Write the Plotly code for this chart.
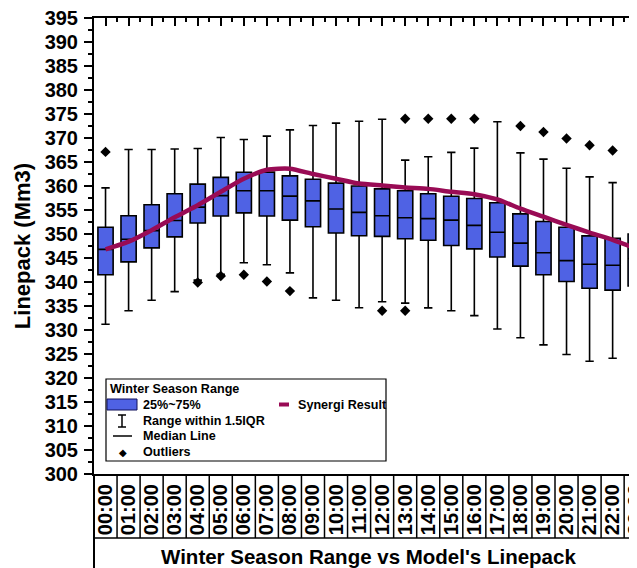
import plotly.graph_objects as go

# ---------------- data ----------------
hours = ["00:00", "01:00", "02:00", "03:00", "04:00", "05:00", "06:00", "07:00",
         "08:00", "09:00", "10:00", "11:00", "12:00", "13:00", "14:00", "15:00",
         "16:00", "17:00", "18:00", "19:00", "20:00", "21:00", "22:00", "23:00"]

whisker_low = [331.2, 334.0, 336.2, 338.0, 340.4, 341.6, 344.0, 343.6, 341.9, 336.7,
               336.2, 334.65, 335.9, 335.6, 334.6, 334.0, 333.0, 330.2, 328.4, 326.9,
               324.9, 323.5, 324.1, 326.6]
q1 = [341.5, 344.2, 347.1, 349.4, 352.3, 353.75, 354.4, 353.75, 352.9, 351.5,
      350.2, 349.65, 349.5, 349.0, 348.7, 347.6, 346.9, 345.2, 343.3, 341.5,
      340.1, 338.7, 338.3, 339.2]
median = [346.8, 348.9, 350.7, 352.8, 355.6, 358.0, 359.0, 359.0, 357.9, 356.9,
          355.2, 354.5, 353.8, 353.4, 353.2, 352.9, 351.8, 350.35, 348.1, 346.1,
          344.45, 343.7, 343.5, 344.9]
q3 = [351.4, 353.8, 356.1, 358.4, 360.4, 361.8, 362.85, 362.9, 362.1, 361.4,
      360.6, 360.0, 359.4, 359.0, 358.4, 357.85, 357.4, 356.5, 354.2, 352.6,
      351.4, 349.6, 349.1, 350.0]
whisker_high = [359.6, 367.6, 367.6, 367.7, 367.8, 370.1, 369.7, 370.4, 371.7, 372.6,
                373.1, 373.5, 373.9, 365.4, 366.1, 367.0, 367.9, 373.4, 366.9, 365.6,
                363.7, 361.9, 360.7, 360.2]

outlier_hours = [0, 4, 5, 6, 7, 8, 12, 13, 13, 14, 15, 16, 18, 19, 20, 21, 22, 23]
outlier_vals = [367.1, 339.9, 341.25, 341.5, 340.1, 338.1, 334.0, 374.0, 334.0, 374.0,
                374.0, 374.0, 372.5, 371.25, 369.9, 368.5, 367.4, 366.9]

synergi = [346.8, 348.4, 350.8, 353.5, 356.0, 358.8, 361.5, 363.4, 363.6, 362.5,
           361.5, 360.5, 360.1, 359.7, 359.4, 358.8, 358.3, 357.2, 355.3, 353.6,
           351.9, 350.3, 348.8, 347.0]

y_ticks = list(range(300, 396, 5))

# ---------------- styling ----------------
# the page body has an 8px default margin, so the figure is offset by 8px
OFF = 8
W, H = 637 - OFF, 568 - OFF
REF_L, REF_T, REF_B = 94, 18, 474          # plot area edges in window pixels
ML, MT = REF_L - OFF, REF_T - OFF
MB = H - (REF_B - OFF)
MR = 0
PW, PH = W - ML - MR, H - MT - MB
FONT = "Liberation Sans, Arial, sans-serif"
BLUE = "#4F62E4"
LINEC = "#990B55"
idx = list(range(len(hours)))
x_range = [-0.5, -0.5 + PW / 23.05]


def px_x(p):
    return (p - REF_L) / PW


def px_y(p):
    return (REF_B - p) / PH


fig = go.Figure()
fig.add_trace(go.Box(
    x=idx, q1=q1, median=median, q3=q3,
    lowerfence=whisker_low, upperfence=whisker_high,
    boxpoints=False, fillcolor=BLUE,
    line=dict(color="black", width=1.6),
    width=0.66, whiskerwidth=0.55, name="25%~75%",
))
fig.add_trace(go.Scatter(
    x=idx, y=synergi, mode="lines", name="Synergi Result",
    line=dict(color=LINEC, width=4.5, shape="spline", smoothing=0.6),
))
fig.add_trace(go.Scatter(
    x=outlier_hours, y=outlier_vals, mode="markers", name="Outliers",
    marker=dict(symbol="diamond", size=8, color="black"),
    xaxis="x2",
))

shapes = []
cell_bottom = px_y(538)
for k in idx[1:]:
    shapes.append(dict(type="line", xref="x", yref="paper", x0=k - 0.5, x1=k - 0.5,
                       y0=0, y1=cell_bottom, line=dict(color="black", width=1.5)))
shapes.append(dict(type="line", xref="paper", yref="paper", x0=0, x1=1,
                   y0=cell_bottom, y1=cell_bottom, line=dict(color="black", width=1.5)))
shapes.append(dict(type="line", xref="paper", yref="paper", x0=0, x1=0,
                   y0=0, y1=px_y(575), line=dict(color="black", width=2)))

# legend frame
shapes.append(dict(type="rect", xref="paper", yref="paper",
                   x0=px_x(106), x1=px_x(386), y0=px_y(379), y1=px_y(461),
                   line=dict(color="black", width=1.2), fillcolor="white"))
# box swatch
shapes.append(dict(type="rect", xref="paper", yref="paper",
                   x0=px_x(107), x1=px_x(137), y0=px_y(399), y1=px_y(410),
                   line=dict(color="#10105a", width=1), fillcolor=BLUE))
# whisker symbol
shapes.append(dict(type="line", xref="paper", yref="paper",
                   x0=px_x(122), x1=px_x(122), y0=px_y(415), y1=px_y(427),
                   line=dict(color="black", width=1.5)))
for yy in (415, 427):
    shapes.append(dict(type="line", xref="paper", yref="paper",
                       x0=px_x(118), x1=px_x(126), y0=px_y(yy), y1=px_y(yy),
                       line=dict(color="black", width=1.5)))
# median symbol
shapes.append(dict(type="line", xref="paper", yref="paper",
                   x0=px_x(113), x1=px_x(132), y0=px_y(436), y1=px_y(436),
                   line=dict(color="black", width=1.5)))
# synergi symbol
shapes.append(dict(type="line", xref="paper", yref="paper",
                   x0=px_x(279), x1=px_x(289), y0=px_y(404.5), y1=px_y(404.5),
                   line=dict(color=LINEC, width=4)))

lf = dict(family=FONT, size=12.6, color="black", weight="bold")
annotations = []


def txt(t, x, y):
    annotations.append(dict(text=t, xref="paper", yref="paper", x=px_x(x), y=px_y(y),
                            xanchor="left", yanchor="middle", showarrow=False,
                            font=lf))


txt("Winter Season Range", 108, 389)
txt("25%~75%", 141, 405)
txt("Range within 1.5IQR", 141, 421)
txt("Median Line", 141, 436)
txt("Outliers", 141, 452)
txt("Synergi Result", 296, 404.5)
annotations.append(dict(text="◆", xref="paper", yref="paper", x=px_x(123), y=px_y(452),
                        xanchor="center", yanchor="middle", showarrow=False,
                        font=dict(family="DejaVu Sans", size=10, color="black")))
annotations.append(dict(text="Winter Season Range vs Model's Linepack",
                        xref="paper", yref="paper", x=px_x(368.5), y=px_y(556),
                        xanchor="center", yanchor="middle", showarrow=False,
                        font=dict(family=FONT, size=20.5, color="black", weight="bold")))

fig.update_layout(
    width=W, height=H,
    margin=dict(l=ML, r=MR, t=MT, b=MB, pad=0),
    paper_bgcolor="white", plot_bgcolor="white",
    showlegend=False,
    shapes=shapes, annotations=annotations,
    xaxis=dict(
        range=x_range, tickmode="array", tickvals=idx, ticktext=hours,
        tickangle=-90, ticks="", showline=True, linecolor="black", linewidth=2,
        showgrid=False, zeroline=False, automargin=False,
        ticklabeloverflow="allow",
        tickfont=dict(family=FONT, size=20, color="black", weight="bold"),
    ),
    xaxis2=dict(
        overlaying="x", side="top", anchor="y", matches="x", range=x_range,
        tickmode="array", tickvals=idx, showticklabels=False,
        ticks="inside", ticklen=8, tickwidth=1.5, tickcolor="black",
        showline=True, linecolor="black", linewidth=2,
        showgrid=False, zeroline=False,
        minor=dict(ticks="inside", ticklen=4, tickwidth=1.5, tickcolor="black",
                   tickmode="array", tickvals=[k - 0.5 for k in idx]),
    ),
    yaxis=dict(
        range=[300, 395], tickmode="array", tickvals=y_ticks,
        ticks="outside", ticklen=8, tickwidth=1.5, tickcolor="black",
        showline=True, linecolor="black", linewidth=2,
        showgrid=False, zeroline=False, automargin=False,
        ticklabeloverflow="allow", ticklabelstandoff=2,
        minor=dict(ticks="outside", ticklen=4, tickwidth=1.5, tickcolor="black",
                   dtick=2.5, tick0=300),
        tickfont=dict(family=FONT, size=20, color="black", weight="bold"),
        title=dict(text="Linepack (Mm3)", standoff=8,
                   font=dict(family=FONT, size=22, color="black", weight="bold")),
    ),
)

fig.write_html("out.html")
